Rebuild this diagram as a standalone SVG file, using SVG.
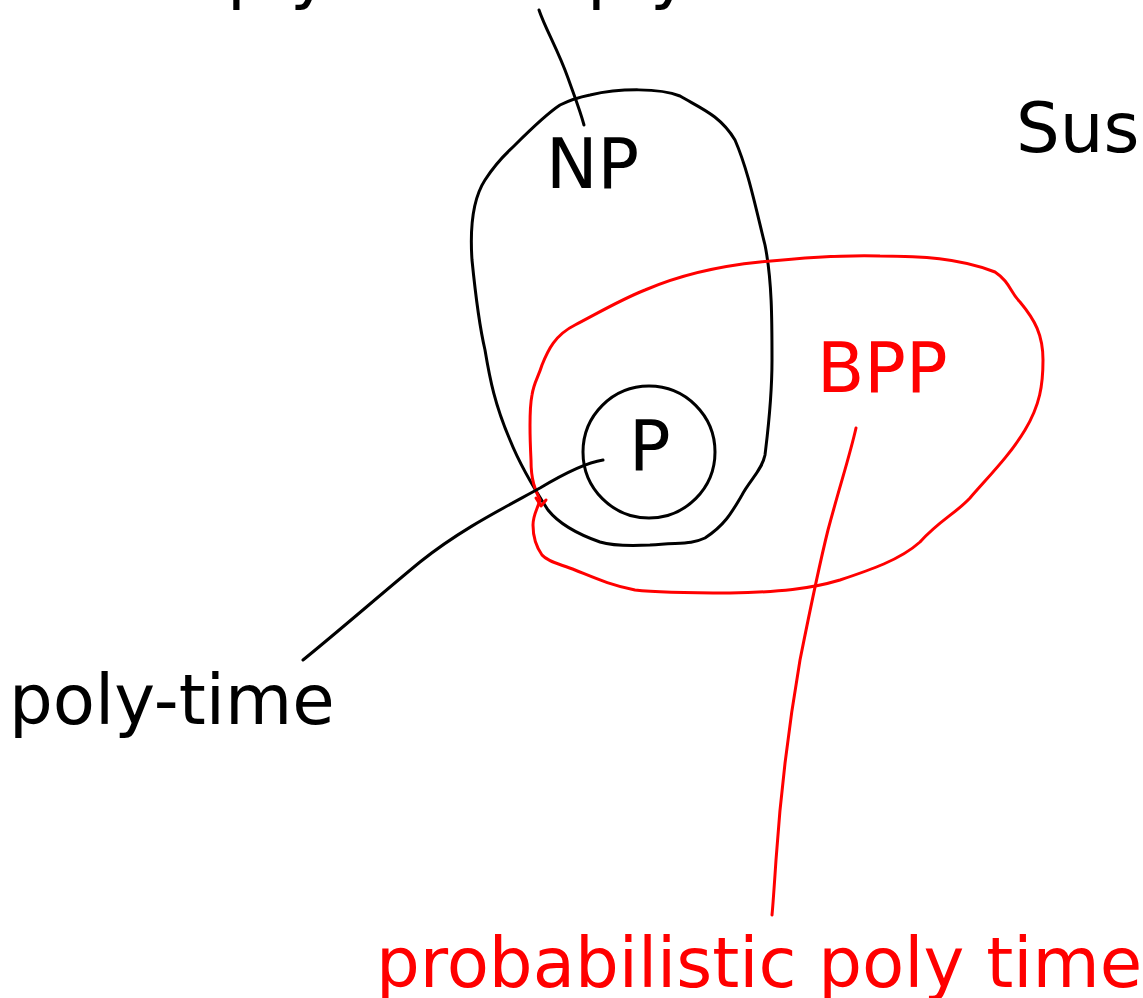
<svg xmlns="http://www.w3.org/2000/svg" width="1143" height="998" viewBox="0 0 1143 998">
<style>
.t{font-family:"DejaVu Sans",sans-serif;font-size:69px}
.k{fill:#000}
.r{fill:#ff0000}
.bl{fill:none;stroke:#000;stroke-width:3;stroke-linecap:round;stroke-linejoin:round}
.rl{fill:none;stroke:#ff0000;stroke-width:3;stroke-linecap:round;stroke-linejoin:round}
</style>
<rect width="1143" height="998" fill="#fff"/>
<g id="top-labels">
<text class="t k" x="227" y="-4">ply</text>
<text class="t k" x="587" y="-4">ply</text>
</g>
<g id="sus"><text class="t k" x="1016" y="152">Sus</text></g>
<g id="NP">
<path class="bl" d="M590,95 C620,88 660,88 680,96 C700,108 720,115 735,140 C748,170 755,205 765,245 C772,280 772,320 772,360 C772,400 768,430 765,455 C762,470 750,480 742,495 C732,512 725,525 705,538 C690,545 680,542 650,545 C630,546 610,545 600,542 C580,535 560,525 548,510 C535,490 520,465 510,440 C495,405 490,380 485,350 C478,320 475,290 472,260 C470,230 472,200 485,180 C498,160 505,155 515,145 C530,130 545,115 560,105 C570,100 580,97 590,95 Z"/>
<text class="t k" x="546" y="188">NP</text>
</g>
<g id="BPP">
<path class="rl" d="M760,262 C800,258 850,255 880,256 C920,256 960,258 995,272 C1010,282 1010,292 1020,302 C1035,320 1043,335 1043,360 C1043,385 1040,405 1025,430 C1010,455 990,475 970,498 C955,514 940,520 920,542 C900,560 870,570 840,580 C810,589 780,592 730,593 C690,593 660,593 635,590 C610,585 595,578 575,570 C560,564 548,562 542,555 C535,545 533,535 533,525 C533,515 537,510 540,500 C535,490 531,480 531,460 C530,440 529,410 532,395 C534,382 538,378 542,365 C548,350 555,335 575,325 C600,312 620,300 645,290 C680,275 720,266 760,262 Z"/>
<path class="rl" d="M536,498 L541,506 L546,500"/>
<text class="t r" x="817" y="392">BPP</text>
</g>
<g id="P">
<circle class="bl" cx="649" cy="452" r="66"/>
<text class="t k" x="629" y="470">P</text>
</g>
<g id="poly-time"><text class="t k" x="9" y="724">poly-time</text></g>
<g id="prob"><text class="t r" x="376" y="987">probabilistic poly time</text></g>
<g id="connectors">
<path class="bl" d="M539,10 C545,28 558,50 568,78 C574,95 580,110 584,125"/>
<path class="bl" d="M603,460 C590,462 570,470 540,488 C500,510 460,530 420,562 C380,595 340,630 303,660"/>
<path class="rl" d="M856,428 C850,455 840,485 828,530 C818,570 810,610 800,660 C788,730 780,800 776,860 C774,890 773,905 772,915"/>
</g>
</svg>
